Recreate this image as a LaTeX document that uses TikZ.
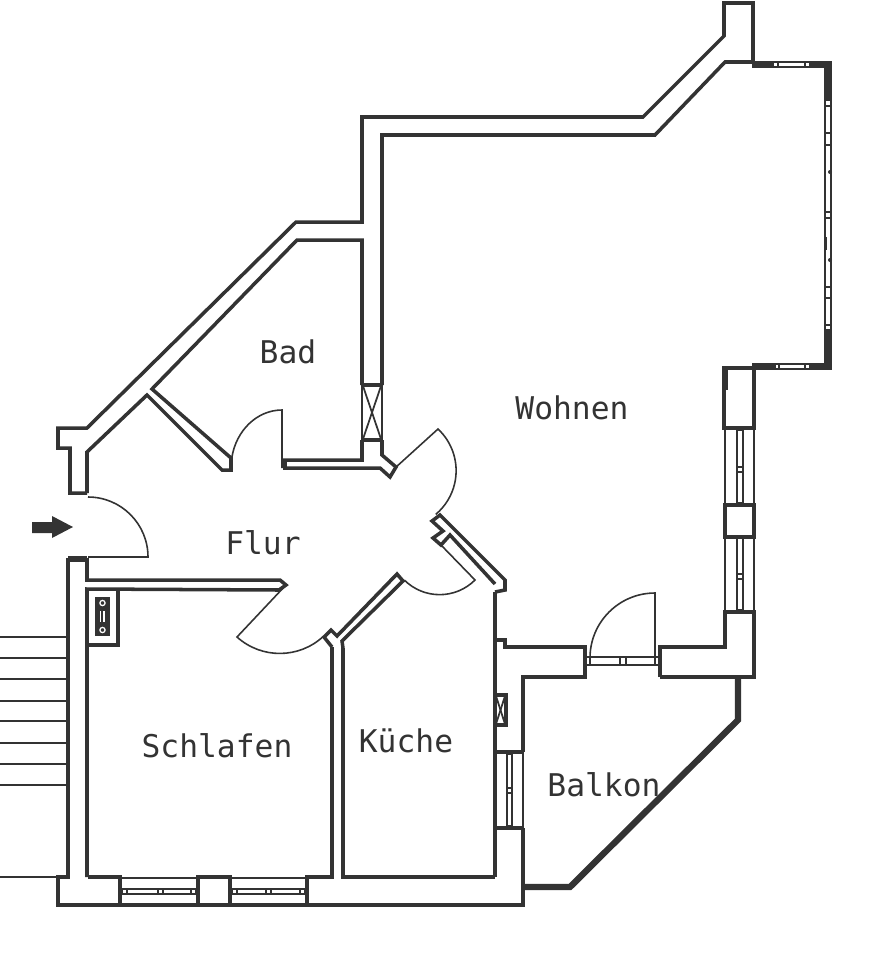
\documentclass[tikz,border=0pt]{standalone}
\usepackage{fontspec}
\setmonofont{DejaVu Sans Mono}
\definecolor{plotink}{gray}{0.2}
\tikzset{
  wall/.style={plotink,line width=1pt,line join=miter},
  heavywall/.style={plotink,line width=1.8pt,line join=miter},
  frame/.style={plotink,line width=0.5pt},
  leaf/.style={plotink,line width=0.45pt},
  roomlabel/.style={plotink,font=\fontsize{8.9}{10}\selectfont\ttfamily},
}

\begin{document}
\begin{tikzpicture}[x=0.01cm,y=-0.01cm]
  \useasboundingbox (0,0) rectangle (873,960);
  % outer wall, top
  \draw[wall] (87,493) -- (70,493) -- (70,448) -- (58,448) -- (58,428) -- (87,428) -- (296,222) -- (362,222) -- (362,117) -- (643,117) -- (724,36) -- (724,3) -- (753,3) -- (753,62);
  \draw[wall] (87,493) -- (87,452) -- (147,395) -- (222,470) -- (231,470) -- (231,458) -- (152,389) -- (297,240) -- (362,240) -- (362,385);
  \draw[wall] (382,385) -- (382,135) -- (655,135) -- (725,62) -- (753,62);
  % shaft in the bath wall
  \draw[wall] (362,385) -- (382,385);
  \draw[wall] (362,440) -- (382,440);
  \draw[frame] (362,385) -- (362,440);
  \draw[frame] (382,385) -- (382,440);
  \draw[frame] (363,386) -- (381,439);
  \draw[frame] (381,386) -- (363,439);
  \draw[wall] (382,440) -- (382,455) -- (396,467) -- (390,477) -- (380,468) -- (285,468) -- (285,460) -- (362,460) -- (362,440);
  % big window, east side
  \fill[plotink] (752,61) rectangle (773,68);
  \fill[plotink] (810,61) rectangle (832,68);
  \fill[plotink] (824,61) rectangle (832,100);
  \fill[plotink] (824,330) rectangle (832,370);
  \fill[plotink] (752,363) rectangle (775,370);
  \fill[plotink] (810,363) rectangle (832,370);
  \draw[frame] (773,62) rectangle (810,67);
  \draw[frame] (778,62) -- (778,67);
  \draw[frame] (805,62) -- (805,67);
  \draw[frame] (775,364) rectangle (810,369);
  \draw[frame] (779,364) -- (779,369);
  \draw[frame] (805,364) -- (805,369);
  \draw[frame] (825,100) rectangle (831,330);
  \draw[frame] (825,106) -- (831,106);
  \draw[frame] (825,133) -- (831,133);
  \draw[frame] (825,145) -- (831,145);
  \draw[frame] (825,212) -- (831,212);
  \draw[frame] (825,218) -- (831,218);
  \draw[frame] (825,287) -- (831,287);
  \draw[frame] (825,298) -- (831,298);
  \draw[frame] (825,325) -- (831,325);
  \fill[plotink] (830,172) circle (2);
  \fill[plotink] (830,260) circle (2);
  \fill[plotink] (825,237) rectangle (827,250);
  % east wall with two windows
  \draw[wall] (752,368) -- (724,368) -- (724,428) -- (754,428) -- (754,368);
  \draw[heavywall] (725,369) -- (725,390);
  \draw[wall] (725,505) rectangle (754,537);
  \draw[wall] (660,677) -- (660,647) -- (725,647) -- (725,612) -- (754,612) -- (754,677) -- (660,677);
  \draw[frame] (725,428) -- (725,505);
  \draw[frame] (754,428) -- (754,505);
  \draw[frame] (725,537) -- (725,612);
  \draw[frame] (754,537) -- (754,612);
  \draw[frame] (737,430) rectangle (743,503);
  \draw[frame] (737,467) -- (743,467);
  \draw[frame] (737,472) -- (743,472);
  \draw[frame] (737,538) rectangle (743,610);
  \draw[frame] (737,574) -- (743,574);
  \draw[frame] (737,579) -- (743,579);
  % balcony door
  \draw[wall] (495,592) -- (495,877);
  \draw[wall] (495,640) -- (505,640) -- (505,647) -- (585,647) -- (585,677) -- (523,677) -- (523,752);
  \draw[frame] (585,657) -- (660,657);
  \draw[frame] (585,665) -- (660,665);
  \draw[frame] (590,657) -- (590,665);
  \draw[frame] (620,657) -- (620,665);
  \draw[frame] (626,657) -- (626,665);
  \draw[frame] (655,657) -- (655,665);
  \draw[leaf] (655,658) -- (655,593) arc (-90:-180:65);
  % kitchen shaft and window
  \draw[wall] (495,695) rectangle (506,725);
  \draw[frame] (496,696) -- (505,724);
  \draw[frame] (505,696) -- (496,724);
  \draw[wall] (495,752) -- (523,752);
  \draw[wall] (495,828) -- (523,828);
  \draw[frame] (523,752) -- (523,828);
  \draw[frame] (507,754) rectangle (512,826);
  \draw[frame] (507,788) -- (512,788);
  \draw[frame] (507,793) -- (512,793);
  \draw[wall] (523,828) -- (523,905) -- (58,905) -- (58,877) -- (70,877);
  % balcony rail
  \draw[heavywall] (738,677) -- (738,720) -- (570,887) -- (525,887);
  % bottom wall with windows
  \draw[wall] (88,877) -- (120,877) -- (120,905);
  \draw[wall] (198,877) rectangle (230,905);
  \draw[wall] (307,905) -- (307,877) -- (332,877) -- (332,647);
  \draw[wall] (343,648) -- (343,877) -- (495,877);
  \draw[frame] (120,878) -- (198,878);
  \draw[frame] (230,878) -- (307,878);
  \draw[frame] (122,889) rectangle (196,894);
  \draw[frame] (127,889) -- (127,894);
  \draw[frame] (158,889) -- (158,894);
  \draw[frame] (163,889) -- (163,894);
  \draw[frame] (191,889) -- (191,894);
  \draw[frame] (232,889) rectangle (305,894);
  \draw[frame] (237,889) -- (237,894);
  \draw[frame] (266,889) -- (266,894);
  \draw[frame] (271,889) -- (271,894);
  \draw[frame] (300,889) -- (300,894);
  % corridor and kitchen walls
  \draw[wall] (68,558) -- (68,877);
  \draw[heavywall] (68,559) -- (87,559);
  \draw[wall] (87,558) -- (87,580) -- (280,580) -- (286,585) -- (279,590) -- (87,589) -- (87,877);
  \draw[wall] (118,589) -- (118,645) -- (87,645);
  \draw[wall] (332,647) -- (324,637) -- (331,630) -- (337,636) -- (397,574) -- (403,581) -- (342,641) -- (343,648);
  \draw[wall] (495,592) -- (505,590) -- (505,580) -- (440,515) -- (432,521) -- (443,531) -- (433,538) -- (441,545) -- (450,535) -- (495,584);
  % meter box
  \fill[plotink] (95,597) rectangle (110,636);
  \fill[white] (100,611) rectangle (105,622);
  \draw[plotink,line width=0.7pt] (102,611) -- (102,622);
  \draw[white,line width=0.35pt] (102.5,603) circle (2.6);
  \draw[white,line width=0.35pt] (102.5,630) circle (2.6);
  % doors
  \draw[leaf] (88,557) -- (148,557) arc (0:-90:60);
  \draw[leaf] (282,468) -- (282,410) arc (-90:-170:51 and 58);
  \draw[leaf] (285,586) -- (237,637) arc (132:47:64);
  \draw[leaf] (441,545) -- (475,580) arc (45:135:50);
  \draw[leaf] (395,468) -- (438,429) arc (-47:50:57);
  % stairs
  \draw[wall,line width=0.7pt] (0,637) -- (68,637);
  \draw[wall,line width=0.7pt] (0,658) -- (68,658);
  \draw[wall,line width=0.7pt] (0,679) -- (68,679);
  \draw[wall,line width=0.7pt] (0,701) -- (68,701);
  \draw[wall,line width=0.7pt] (0,721) -- (68,721);
  \draw[wall,line width=0.7pt] (0,743) -- (68,743);
  \draw[wall,line width=0.7pt] (0,764) -- (68,764);
  \draw[wall,line width=0.7pt] (0,785) -- (68,785);
  \draw[wall,line width=0.7pt] (0,877) -- (58,877);
  % entrance arrow
  \fill[plotink] (32,522) -- (52,522) -- (52,516) -- (73,527) -- (52,538) -- (52,533) -- (32,533) -- cycle;
  % rooms
  \node[roomlabel] (bad) at (288,352) {Bad};
  \node[roomlabel] (wohnen) at (572,408) {Wohnen};
  \node[roomlabel] (flur) at (263,543) {Flur};
  \node[roomlabel] (schlafen) at (217,746) {Schlafen};
  \node[roomlabel] (kueche) at (406,741) {Küche};
  \node[roomlabel] (balkon) at (604,785) {Balkon};
\end{tikzpicture}
\end{document}
